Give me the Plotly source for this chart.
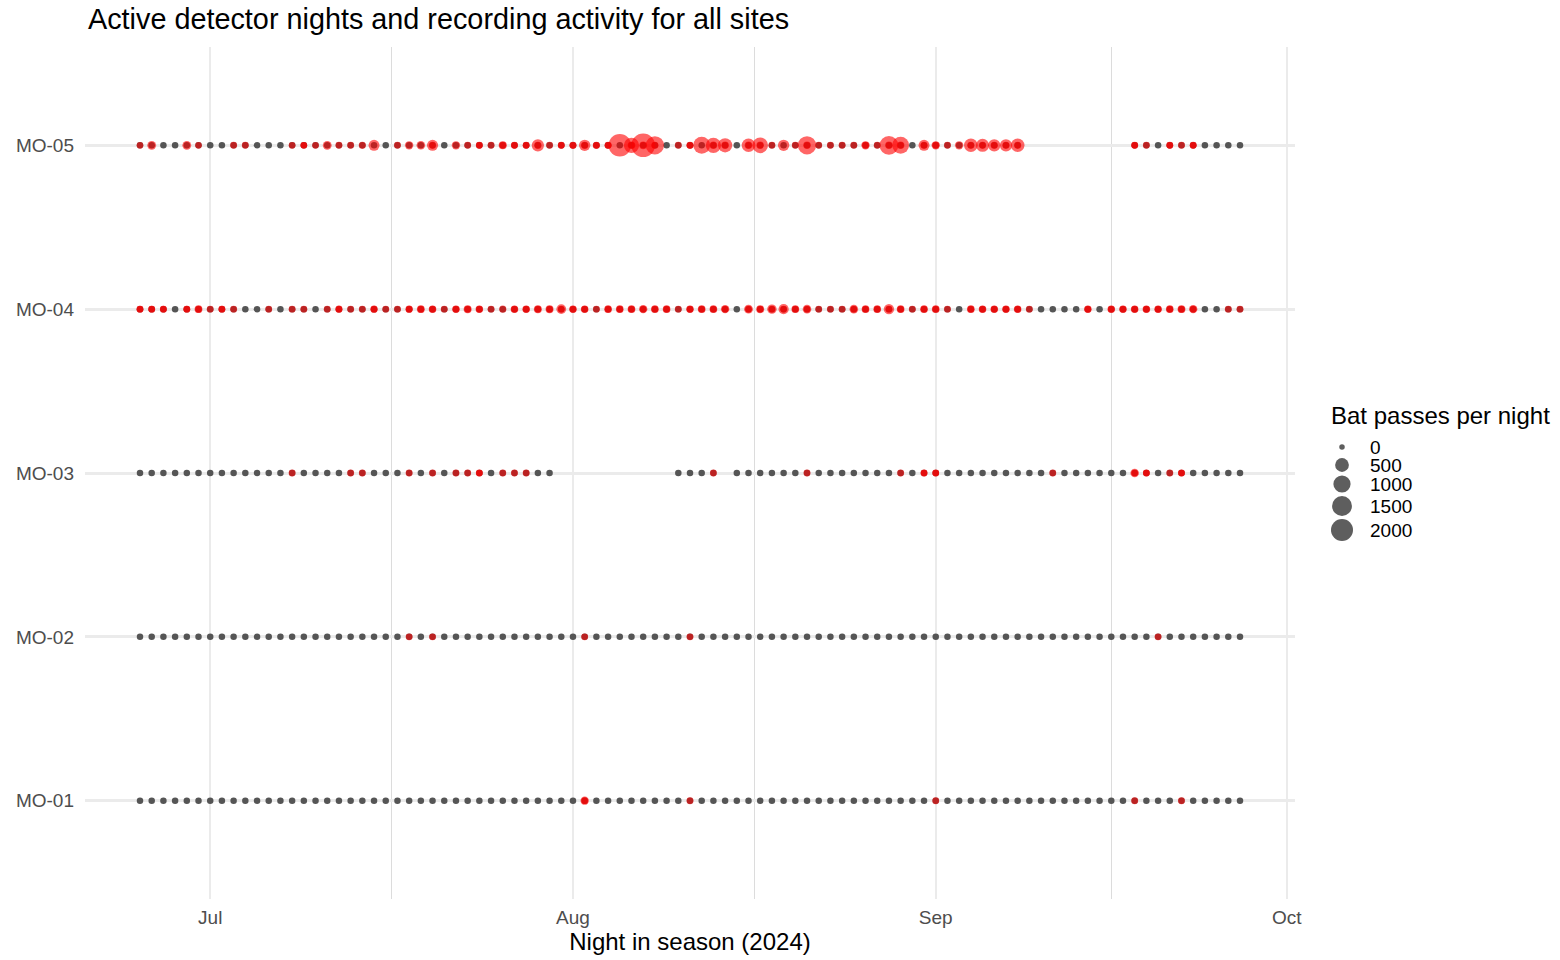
import math
import pandas as pd
import plotly.graph_objects as go

# ---------------- data ----------------
sites = ["MO-01", "MO-02", "MO-03", "MO-04", "MO-05"]
nights = pd.date_range("2024-06-25", "2024-09-27", freq="D")  # 95 nights
N = None  # detector not deployed / not active that night

# bat passes per night (0 = detector active, nothing recorded)
passes_mo05 = [10, 80, 0, 0, 80, 10, 0, 0, 15, 15, 0, 0, 0, 12, 12, 12, 80, 15, 15, 20,
               220, 0, 15, 60, 70, 230, 0, 60, 15, 15, 15, 50, 15, 15, 330, 15, 15, 20, 250, 20,
               20, 2100, 700, 2400, 1200, 0, 15, 20, 950, 700, 550, 0, 480, 750, 15, 250, 15, 1200, 15, 15,
               15, 15, 60, 15, 1300, 950, 0, 220, 60, 15, 60, 480, 420, 330, 330, 480, N, N, N, N,
               N, N, N, N, N, 15, 15, 0, 15, 15, 15, 0, 0, 0, 0]
second_mo05 = [0, 0, 0, 0, 0, 0, 0, 0, 0, 0, 0, 0, 0, 0, 8, 0, 0, 0, 0, 0,
               0, 0, 0, 0, 0, 20, 0, 0, 0, 10, 0, 15, 10, 10, 25, 0, 10, 10, 25, 10,
               10, 0, 30, 40, 20, 0, 0, 10, 0, 30, 30, 0, 30, 30, 0, 0, 0, 30, 0, 0,
               0, 0, 15, 0, 30, 30, 0, 20, 15, 0, 0, 20, 20, 20, 20, 20, 0, 0, 0, 0,
               0, 0, 0, 0, 0, 10, 0, 0, 10, 0, 10, 0, 0, 0, 0]

passes_mo04 = [15, 15, 15, 0, 15, 40, 15, 15, 15, 0, 0, 15, 0, 15, 15, 0, 15, 20, 15, 15,
               25, 15, 15, 25, 40, 30, 15, 30, 45, 30, 15, 20, 30, 30, 45, 45, 130, 30, 30, 15,
               35, 35, 35, 60, 35, 35, 15, 30, 35, 35, 60, 0, 80, 45, 110, 160, 35, 70, 15, 15,
               15, 70, 35, 35, 170, 35, 15, 35, 35, 15, 0, 35, 30, 30, 30, 30, 15, 0, 0, 0,
               0, 30, 0, 30, 30, 30, 30, 30, 35, 40, 60, 0, 0, 15, 15]
second_mo04 = [10, 10, 10, 0, 10, 10, 0, 10, 0, 0, 0, 0, 0, 0, 0, 0, 0, 10, 0, 0,
               10, 0, 0, 10, 10, 10, 0, 10, 10, 10, 0, 0, 10, 10, 10, 10, 10, 10, 10, 0,
               10, 10, 10, 10, 10, 10, 0, 10, 10, 10, 10, 0, 10, 10, 15, 15, 10, 10, 0, 0,
               0, 10, 10, 10, 15, 10, 0, 10, 10, 0, 0, 10, 10, 10, 10, 10, 0, 0, 0, 0,
               0, 10, 0, 10, 10, 10, 10, 10, 10, 10, 10, 0, 0, 0, 0]

passes_mo03 = [0, 0, 0, 0, 0, 0, 0, 0, 0, 0, 0, 0, 0, 15, 0, 0, 0, 0, 15, 15,
               0, 0, 0, 15, 0, 15, 0, 15, 15, 15, 0, 15, 15, 15, 0, 0, N, N, N, N,
               N, N, N, N, N, N, 0, 0, 0, 15, N, 0, 0, 0, 0, 0, 0, 15, 0, 0,
               0, 0, 0, 0, 0, 15, 0, 15, 15, 0, 0, 0, 0, 0, 0, 0, 0, 0, 15, 0,
               0, 0, 0, 0, 0, 70, 15, 0, 15, 15, 0, 0, 0, 0, 0]
second_mo03 = [0] * 29 + [10] + [0] * 37 + [10, 10] + [0] * 16 + [10, 10, 0, 0, 10] + [0] * 5

passes_mo02 = [0] * 23 + [15, 0, 15] + [0] * 12 + [15] + [0] * 8 + [15] + [0] * 39 + [15] + [0] * 7
second_mo02 = [0] * 95

passes_mo01 = [0] * 38 + [60] + [0] * 8 + [15] + [0] * 20 + [15] + [0] * 16 + [15, 0, 0, 0, 15] + [0] * 5
second_mo01 = [0] * 38 + [10] + [0] * 56

passes = {"MO-01": passes_mo01, "MO-02": passes_mo02, "MO-03": passes_mo03,
          "MO-04": passes_mo04, "MO-05": passes_mo05}
second = {"MO-01": second_mo01, "MO-02": second_mo02, "MO-03": second_mo03,
          "MO-04": second_mo04, "MO-05": second_mo05}

legend_values = [0, 500, 1000, 1500, 2000]
legend_labels = ["0", "500", "1000", "1500", "2000"]
month_ticks = ["2024-07-01", "2024-08-01", "2024-09-01", "2024-10-01"]
month_labels = ["Jul", "Aug", "Sep", "Oct"]
minor_breaks = ["2024-07-16 12:00", "2024-08-16 12:00", "2024-09-16 00:00"]

# ---------------- style ----------------
FONT = "Liberation Sans, Arial, sans-serif"
GREY_DOT = "#555555"
RED = "#ff0000"
ALPHA = 0.6


def dia(v):
    return 5.5 + 0.37 * math.sqrt(v)


fig = go.Figure()

# grey active-night dots
for s in sites:
    xs = [d for d, v in zip(nights, passes[s]) if v is not None]
    fig.add_trace(go.Scatter(x=xs, y=[s] * len(xs), mode="markers",
                             marker=dict(size=6.5, color=GREY_DOT, opacity=1, line=dict(width=0)),
                             hoverinfo="skip", showlegend=False))

# red recording-activity dots
for layer in (passes, second):
    for s in sites:
        xs, sz = [], []
        for d, v in zip(nights, layer[s]):
            if v:
                xs.append(d)
                sz.append(dia(v))
        fig.add_trace(go.Scatter(x=xs, y=[s] * len(xs), mode="markers",
                                 marker=dict(size=sz, sizemode="diameter", color=RED,
                                             opacity=ALPHA, line=dict(width=0)),
                                 hoverinfo="skip", showlegend=False))

# ---------------- layout ----------------
W, H = 1560, 960
L, R, T, B = 85, 10, 47, 61
panel_right = 1295
plot_w = W - L - R
plot_h = H - T - B
main_dom = (panel_right - L) / plot_w

span = nights[-1] - nights[0]
x0 = nights[0] - span * 0.05
x1 = nights[-1] + span * 0.05

fig.update_layout(
    width=W, height=H,
    margin=dict(l=L, r=R, t=T, b=B, autoexpand=False),
    paper_bgcolor="white", plot_bgcolor="white",
    font=dict(family=FONT, color="#4d4d4d", size=19),
    showlegend=False,
    xaxis=dict(type="date", domain=[0, main_dom], range=[x0, x1], automargin=False,
               tickvals=month_ticks, ticktext=month_labels,
               showgrid=True, gridcolor="#ebebeb", gridwidth=2,
               minor=dict(tickvals=minor_breaks, showgrid=True, gridcolor="#dcdcdc", gridwidth=1),
               zeroline=False, showline=False, ticks="", ticklabelstandoff=5,
               tickfont=dict(size=19, color="#4d4d4d"),
               title=dict(text="Night in season (2024)", font=dict(size=24, color="black"), standoff=6)),
    yaxis=dict(type="category", categoryorder="array", categoryarray=sites, automargin=False,
               range=[-0.6, 4.6], showgrid=True, gridcolor="#ebebeb", gridwidth=2.5,
               zeroline=False, showline=False, ticks="",
               tickfont=dict(size=19, color="#4d4d4d"), ticklabelstandoff=10),
    xaxis2=dict(domain=[(1300 - L) / plot_w, 1], range=[1300, 1550], visible=False,
                fixedrange=True, anchor="y2"),
    yaxis2=dict(domain=[0, 1], range=[H - B, T], visible=False, fixedrange=True, anchor="x2"),
)

# size legend (drawn on an auxiliary pixel-unit axis pair)
legend_rows = [447, 465, 484, 506, 530]
fig.add_trace(go.Scatter(x=[1342] * len(legend_values), y=legend_rows, xaxis="x2", yaxis="y2",
                         mode="markers",
                         marker=dict(size=[dia(v) for v in legend_values], sizemode="diameter",
                                     color="#5e5e5e", opacity=1, line=dict(width=0)),
                         hoverinfo="skip", showlegend=False))
for yy, lab in zip(legend_rows, legend_labels):
    fig.add_annotation(x=1368, y=yy, xref="x2", yref="y2", text=lab, showarrow=False,
                       xanchor="left", yanchor="middle", font=dict(size=19, color="black"))
fig.add_annotation(x=1329, y=415, xref="x2", yref="y2", text="Bat passes per night",
                   showarrow=False, xanchor="left", yanchor="middle",
                   font=dict(size=24, color="black"))

# title
fig.add_annotation(x=(86 - L) / plot_w, y=(H - B - 19) / plot_h, xref="paper", yref="paper",
                   text="Active detector nights and recording activity for all sites",
                   showarrow=False, xanchor="left", yanchor="middle",
                   font=dict(size=28.8, color="black"))

fig.write_html("out.html", config={"displayModeBar": False},
               post_script="document.body.style.margin='0px';")
